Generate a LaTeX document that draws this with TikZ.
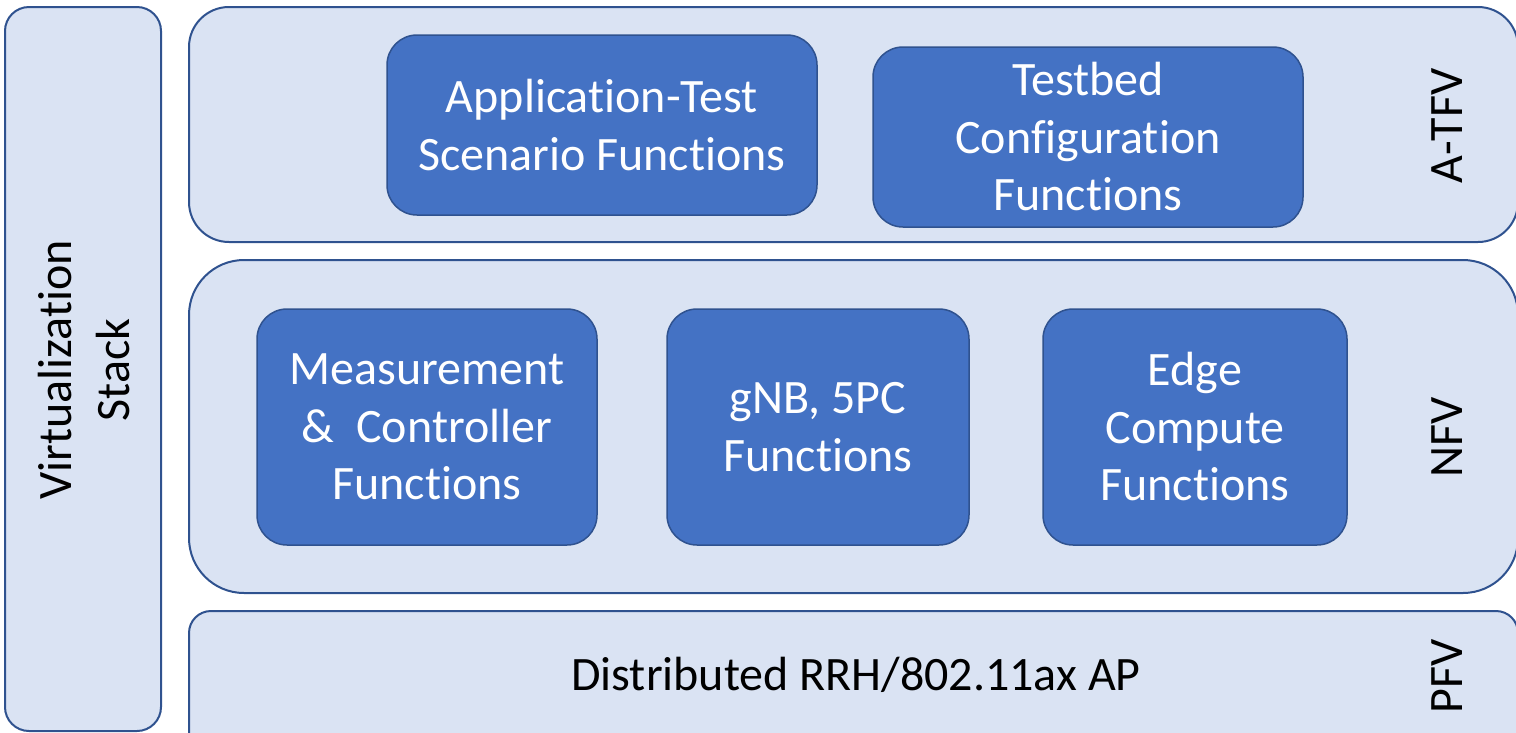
\documentclass[tikz,border=0pt]{standalone}
\usepackage{fontspec}
\setmainfont{Carlito}[Ligatures={NoCommon}]
\definecolor{panelfill}{HTML}{DAE3F3}
\definecolor{panelline}{HTML}{2F528F}
\definecolor{fnfill}{HTML}{4472C4}
\tikzset{
  panel/.style={draw=panelline, fill=panelfill, line width=2pt, inner sep=0pt},
  fnbox/.style={draw=panelline, fill=fnfill, line width=1.5pt, rounded corners=30pt,
    text=white, align=center, inner sep=0pt, font=\fontsize{48}{57.5}\selectfont},
  sidelabel/.style={rotate=90, align=center, inner sep=0pt, font=\fontsize{48}{57.5}\selectfont},
  bodytext/.style={align=center, inner sep=0pt, font=\fontsize{48}{57.5}\selectfont}
}
\begin{document}
\begin{tikzpicture}[x=1pt, y=-1pt]
\useasboundingbox (0,0) rectangle (1516,732);
\clip (0,0) rectangle (1516,732);

% outer layer panels
\draw[panel, rounded corners=24pt] (5,7) rectangle (161,731);
\draw[panel, rounded corners=40pt] (189,7) rectangle (1518,242);
\draw[panel, rounded corners=55pt] (189,260) rectangle (1518,593);
\draw[panel, rounded corners=22pt] (189,611) rectangle (1518,770);

\node[sidelabel] (virt) at (84,370) {Virtualization\\Stack};
\node[sidelabel] (atfv) at (1447,126) {A-TFV};
\node[sidelabel] (nfv) at (1447,437) {NFV};
\node[sidelabel] (pfv) at (1447,676) {PFV};

% A-TFV functions
\node[fnbox, minimum width=430pt, minimum height=180pt] (app) at (602,125)
  {Application-Test\\Scenario Functions};
\node[fnbox, minimum width=430pt, minimum height=180pt] (tb) at (1088,137)
  {Testbed\\Configuration\\Functions};

% NFV functions
\node[fnbox, minimum width=340pt, minimum height=236pt] (meas) at (427,427)
  {Measurement\\\&\ \ Controller\\Functions};
\node[fnbox, minimum width=302pt, minimum height=236pt] (gnb) at (818,427)
  {gNB, 5PC\\Functions};
\node[fnbox, minimum width=304pt, minimum height=236pt] (edge) at (1195,427)
  {Edge\\Compute\\Functions};

% PFV content
\node[bodytext] (rrh) at (856,675) {Distributed RRH/802.11ax AP};
\end{tikzpicture}
\end{document}
